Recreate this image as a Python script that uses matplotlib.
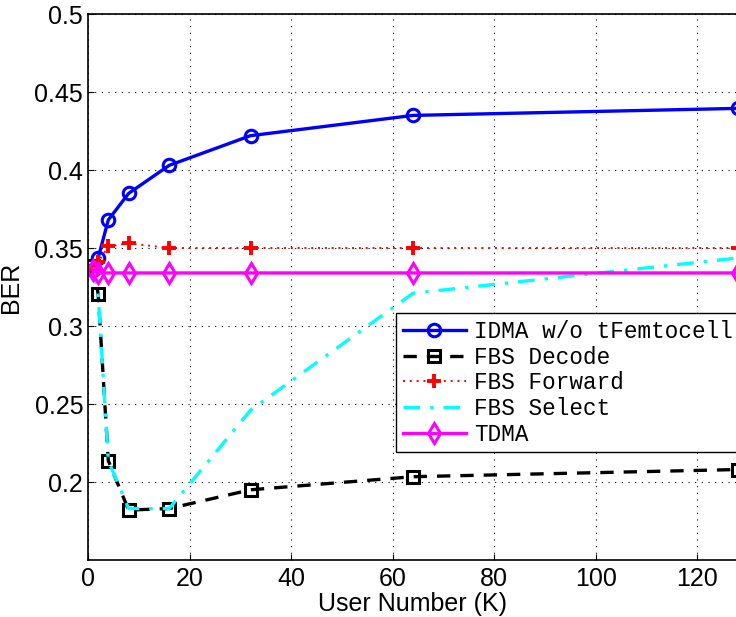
import matplotlib
matplotlib.use("Agg")
import matplotlib.pyplot as plt

# User numbers on the x axis
users = [1, 2, 4, 8, 16, 32, 64, 128]

# BER per scheme
ber_idma = [0.336, 0.3436, 0.368, 0.385, 0.403, 0.422, 0.435, 0.4395]
ber_decode = [0.3385, 0.3205, 0.2136, 0.182, 0.183, 0.195, 0.2034, 0.208]
ber_forward = [0.336, 0.341, 0.351, 0.353, 0.350, 0.350, 0.350, 0.350]
ber_select = [0.3375, 0.3205, 0.2136, 0.183, 0.183, 0.246, 0.321, 0.3436]
ber_tdma = [0.336, 0.334, 0.334, 0.334, 0.334, 0.334, 0.334, 0.334]

labels = ["IDMA w/o tFemtocell", "FBS Decode", "FBS Forward", "FBS Select", "TDMA"]

xticks = [0, 20, 40, 60, 80, 100, 120]
yticks = [0.2, 0.25, 0.3, 0.35, 0.4, 0.45, 0.5]
ytick_labels = ["0.2", "0.25", "0.3", "0.35", "0.4", "0.45", "0.5"]

plt.rcParams["font.family"] = ["Liberation Sans", "DejaVu Sans"]

fig = plt.figure(figsize=(7.36, 6.17), dpi=100)
ax = fig.add_axes([88 / 736, 57 / 617, 650 / 736, 546 / 617])

ax.plot(users, ber_idma, color="#0000ff", lw=2.4, marker="o", ms=9,
        mfc="none", mew=2.2, label=labels[0])
ax.plot(users, ber_decode, color="black", lw=2.4, ls=(0, (4, 3)), marker="s",
        ms=8, mfc="none", mew=2.2, label=labels[1])
ax.plot(users, ber_forward, color="#ff0000", lw=1.4, ls=(0, (1, 2.5)),
        marker="+", ms=10, mew=2.8, label=labels[2])
ax.plot(users, ber_select, color="#00ffff", lw=2.4, ls=(0, (5, 3, 1, 3)),
        label=labels[3])
ax.plot(users, ber_tdma, color="#ff00ff", lw=2.4, marker="d", ms=10,
        mfc="none", mew=2.2, label=labels[4])

ax.set_xlim(0, 128)
ax.set_ylim(0.15, 0.5)
ax.set_xticks(xticks)
ax.set_yticks(yticks)
ax.set_yticklabels(ytick_labels)
ax.tick_params(labelsize=18, direction="in", length=4, width=0.8)
ax.tick_params(axis="x", pad=5)
ax.grid(True, color="black", ls=(0, (1, 5)), lw=0.8)

for s in ax.spines.values():
    s.set_linewidth(1.2)

ax.set_xlabel("User Number (K)", fontsize=18, labelpad=1)
ax.set_ylabel("BER", fontsize=18, labelpad=8)

leg = ax.legend(loc="upper left", bbox_to_anchor=(396 / 736, 1 - 313 / 617),
                bbox_transform=fig.transFigure,
                prop={"family": "Liberation Mono", "size": 16.3},
                frameon=True, fancybox=False, framealpha=1, edgecolor="black",
                handlelength=2.8, handletextpad=0.35, labelspacing=0.12,
                borderpad=0.3, borderaxespad=0)
leg.get_frame().set_linewidth(1.0)

fig.savefig("out.png", dpi=100)
